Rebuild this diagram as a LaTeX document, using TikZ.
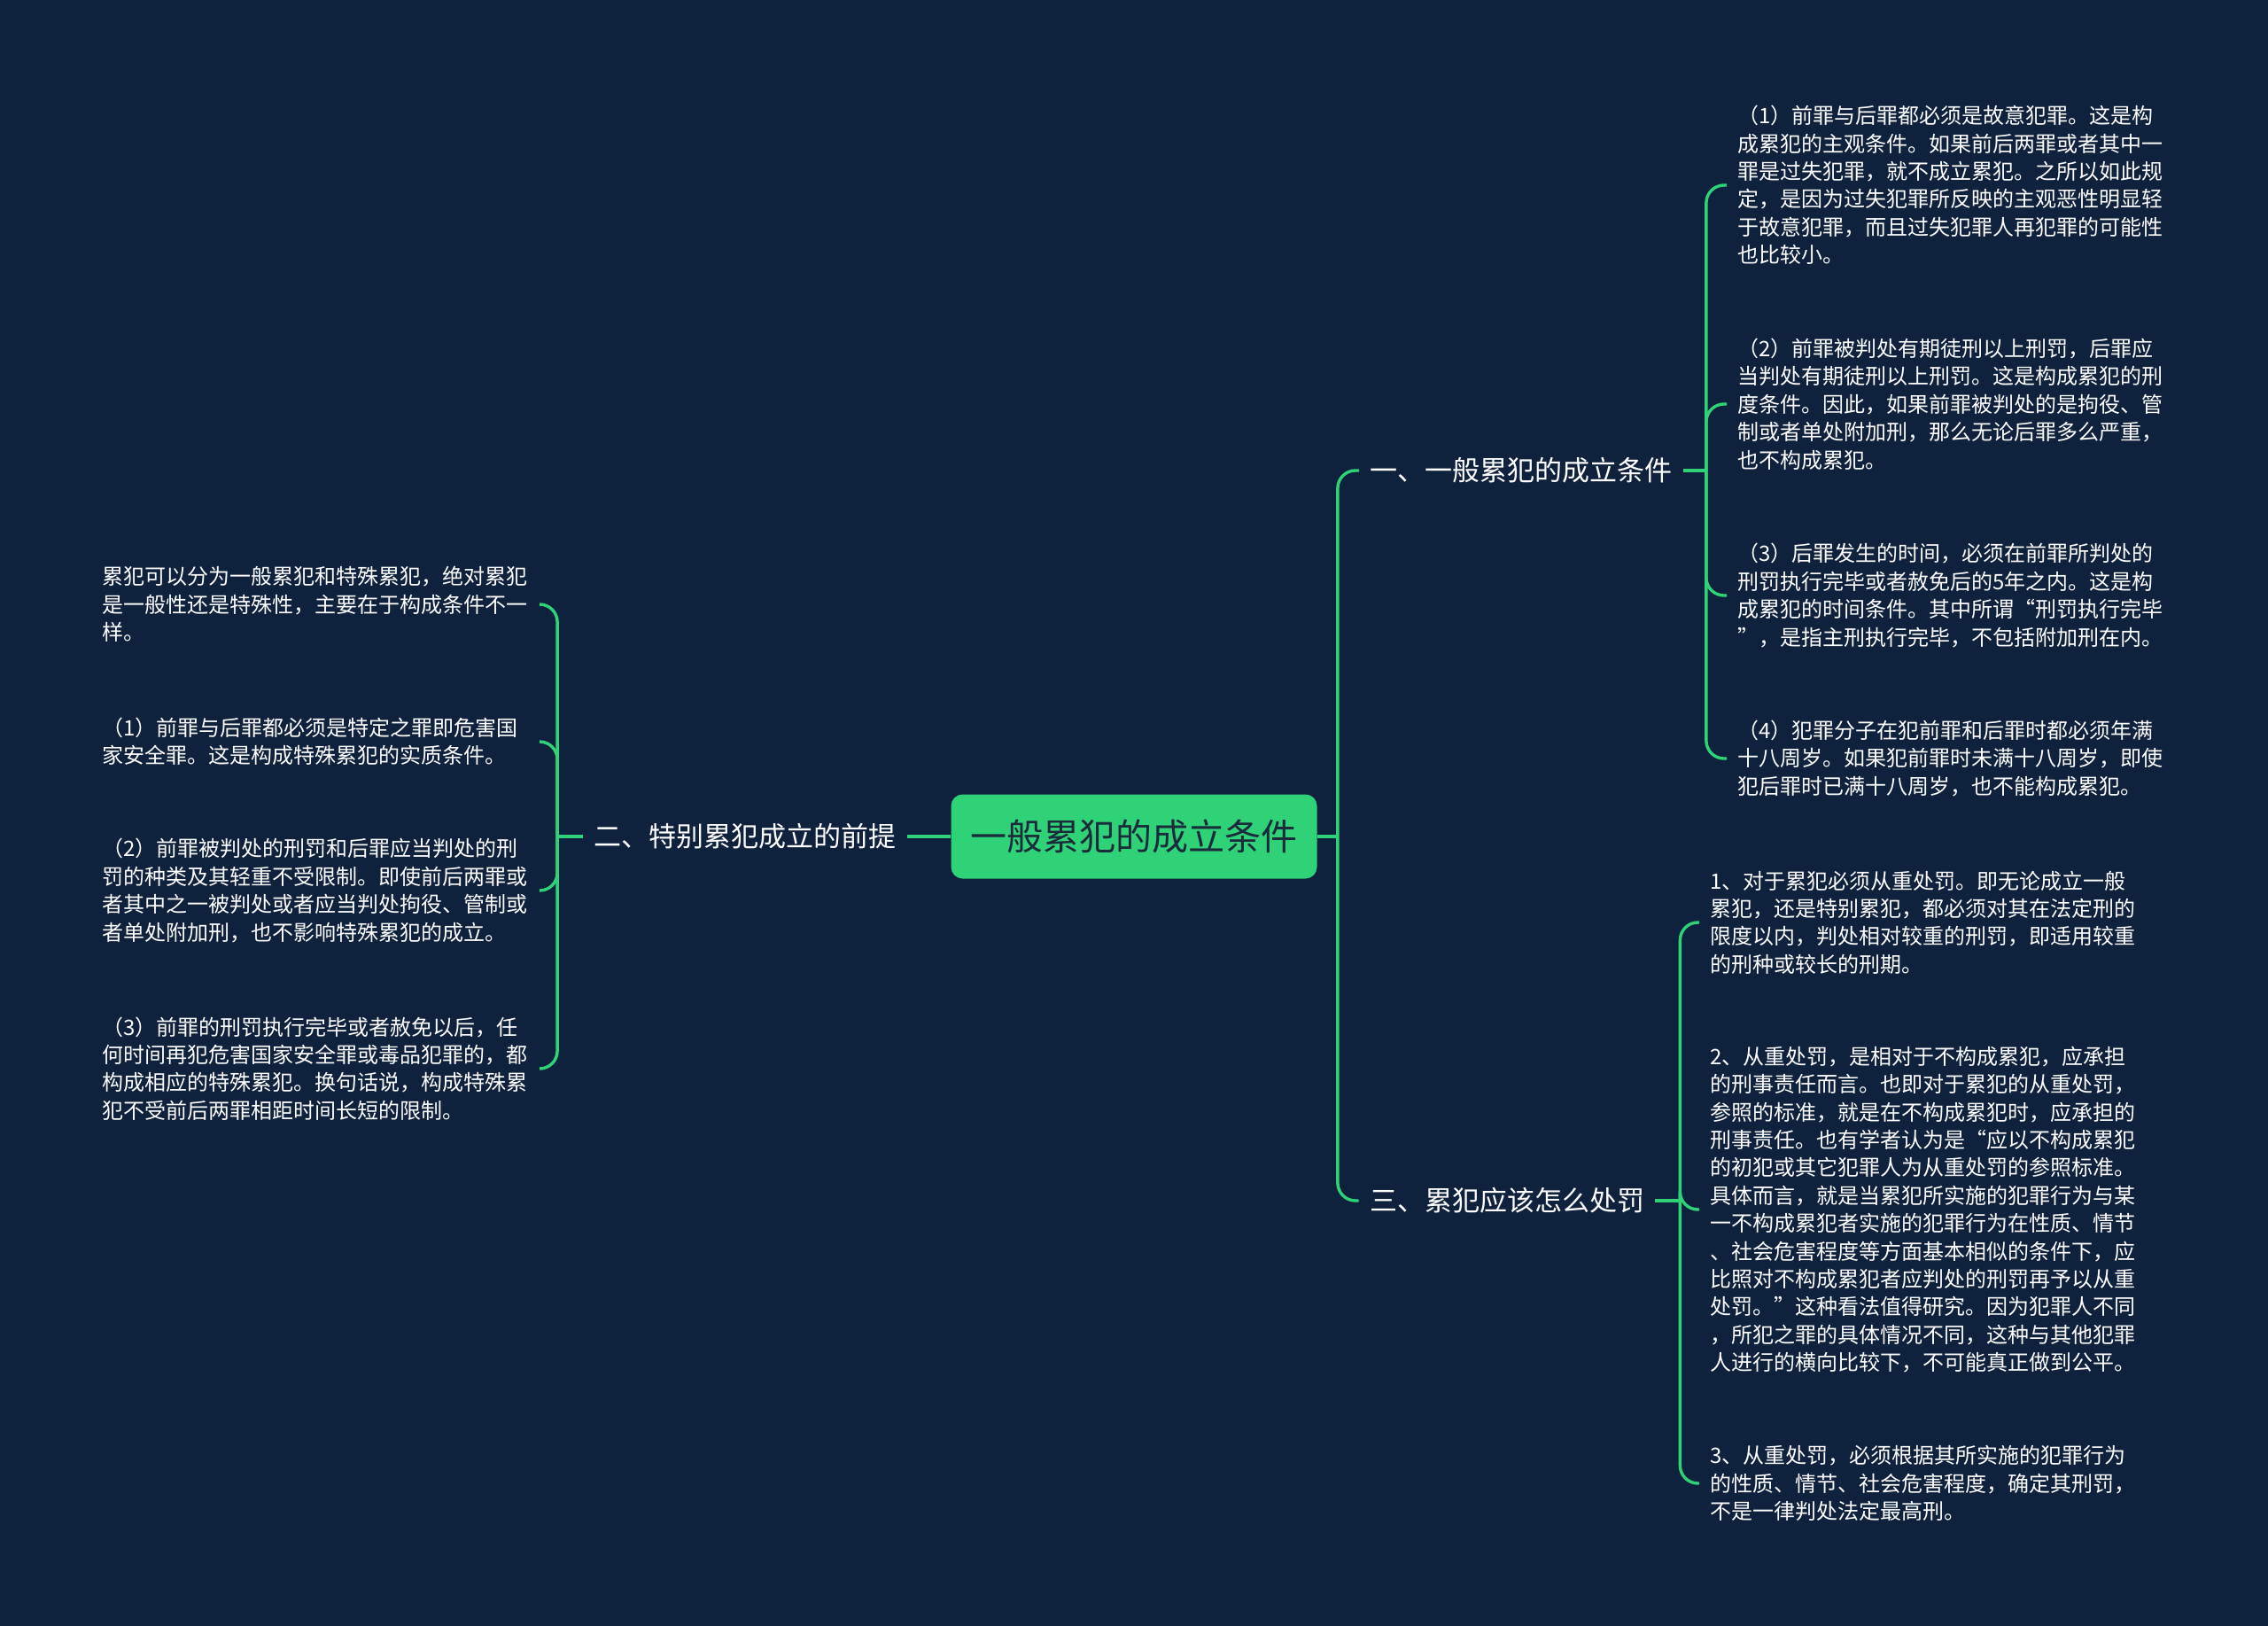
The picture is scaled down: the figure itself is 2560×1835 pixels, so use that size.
\documentclass[tikz,border=0pt]{standalone}
\usepackage{fontspec}
\setmainfont{Noto Sans CJK SC}
\definecolor{bg}{HTML}{0E223D}
\definecolor{lg}{HTML}{2FD276}
\definecolor{ink}{HTML}{1A2B3C}
\begin{document}
\begin{tikzpicture}[x=0.5pt,y=-0.5pt,
  conn/.style={draw=lg, line width=1.7pt},
  rc/.style={rounded corners=10pt},
  leaf/.style={text=white, font=\fontsize{12pt}{15.7pt}\selectfont, text width=241.5pt, align=left, inner xsep=6pt, inner ysep=0pt},
  branch/.style={text=white, font=\fontsize{15.5pt}{18pt}\selectfont, inner xsep=6pt, inner ysep=2pt},
  root/.style={fill=lg, rounded corners=6.5pt, text=ink, font=\fontsize{20.5pt}{24pt}\selectfont, minimum width=206.5pt, minimum height=47.5pt}
]
\useasboundingbox (0,0) rectangle (2560,1835);
\fill[bg] (0,0) rectangle (2560,1835);

% root and branches
\node[root] (c) at (1280,944) {一般累犯的成立条件};
\node[branch] (n1) at (1717,531) {一、一般累犯的成立条件};
\node[branch] (n2) at (841,944) {二、特别累犯成立的前提};
\node[branch] (n3) at (1701,1355) {三、累犯应该怎么处罚};

% right group 1
\node[leaf, anchor=west] (r1) at (1949,209) {（1）前罪与后罪都必须是故意犯罪。这是构\\
成累犯的主观条件。如果前后两罪或者其中一\\
罪是过失犯罪，就不成立累犯。之所以如此规\\
定，是因为过失犯罪所反映的主观恶性明显轻\\
于故意犯罪，而且过失犯罪人再犯罪的可能性\\
也比较小。};
\node[leaf, anchor=west] (r2) at (1949,456) {（2）前罪被判处有期徒刑以上刑罚，后罪应\\
当判处有期徒刑以上刑罚。这是构成累犯的刑\\
度条件。因此，如果前罪被判处的是拘役、管\\
制或者单处附加刑，那么无论后罪多么严重，\\
也不构成累犯。};
\node[leaf, anchor=west] (r3) at (1949,672) {（3）后罪发生的时间，必须在前罪所判处的\\
刑罚执行完毕或者赦免后的5年之内。这是构\\
成累犯的时间条件。其中所谓“刑罚执行完毕\\
”，是指主刑执行完毕，不包括附加刑在内。};
\node[leaf, anchor=west] (r4) at (1949,856) {（4）犯罪分子在犯前罪和后罪时都必须年满\\
十八周岁。如果犯前罪时未满十八周岁，即使\\
犯后罪时已满十八周岁，也不能构成累犯。};

% right group 3
\node[leaf, anchor=west] (s1) at (1918,1041) {1、对于累犯必须从重处罚。即无论成立一般\\
累犯，还是特别累犯，都必须对其在法定刑的\\
限度以内，判处相对较重的刑罚，即适用较重\\
的刑种或较长的刑期。};
\node[leaf, anchor=west] (s2) at (1918,1365) {2、从重处罚，是相对于不构成累犯，应承担\\
的刑事责任而言。也即对于累犯的从重处罚，\\
参照的标准，就是在不构成累犯时，应承担的\\
刑事责任。也有学者认为是“应以不构成累犯\\
的初犯或其它犯罪人为从重处罚的参照标准。\\
具体而言，就是当累犯所实施的犯罪行为与某\\
一不构成累犯者实施的犯罪行为在性质、情节\\
、社会危害程度等方面基本相似的条件下，应\\
比照对不构成累犯者应判处的刑罚再予以从重\\
处罚。”这种看法值得研究。因为犯罪人不同\\
，所犯之罪的具体情况不同，这种与其他犯罪\\
人进行的横向比较下，不可能真正做到公平。};
\node[leaf, anchor=west] (s3) at (1918,1674) {3、从重处罚，必须根据其所实施的犯罪行为\\
的性质、情节、社会危害程度，确定其刑罚，\\
不是一律判处法定最高刑。};

% left group
\node[leaf, anchor=east] (l0) at (611,682) {累犯可以分为一般累犯和特殊累犯，绝对累犯\\
是一般性还是特殊性，主要在于构成条件不一\\
样。};
\node[leaf, anchor=east] (l1) at (611,837) {（1）前罪与后罪都必须是特定之罪即危害国\\
家安全罪。这是构成特殊累犯的实质条件。};
\node[leaf, anchor=east] (l2) at (611,1005) {（2）前罪被判处的刑罚和后罪应当判处的刑\\
罚的种类及其轻重不受限制。即使前后两罪或\\
者其中之一被判处或者应当判处拘役、管制或\\
者单处附加刑，也不影响特殊累犯的成立。};
\node[leaf, anchor=east] (l3) at (611,1206) {（3）前罪的刑罚执行完毕或者赦免以后，任\\
何时间再犯危害国家安全罪或毒品犯罪的，都\\
构成相应的特殊累犯。换句话说，构成特殊累\\
犯不受前后两罪相距时间长短的限制。};

% connectors
\coordinate (tc) at ([xshift=11.5pt]c.east);
\draw[conn] (c.east) -- (tc);
\draw[conn, rc] (tc) |- (n1.west);
\draw[conn, rc] (tc) |- (n3.west);
\draw[conn] (c.west) -- (n2.east);

\coordinate (t2) at ([xshift=-14.5pt]n2.west);
\draw[conn] (n2.west) -- (t2);
\foreach \k in {l0,l1,l2,l3} \draw[conn, rc] (t2) |- (\k.east);

\coordinate (t1) at ([xshift=13pt]n1.east);
\draw[conn] (n1.east) -- (t1);
\foreach \k in {r1,r2,r3,r4} \draw[conn, rc] (t1) |- (\k.west);

\coordinate (t3) at ([xshift=14pt]n3.east);
\draw[conn] (n3.east) -- (t3);
\foreach \k in {s1,s2,s3} \draw[conn, rc] (t3) |- (\k.west);
\end{tikzpicture}
\end{document}
